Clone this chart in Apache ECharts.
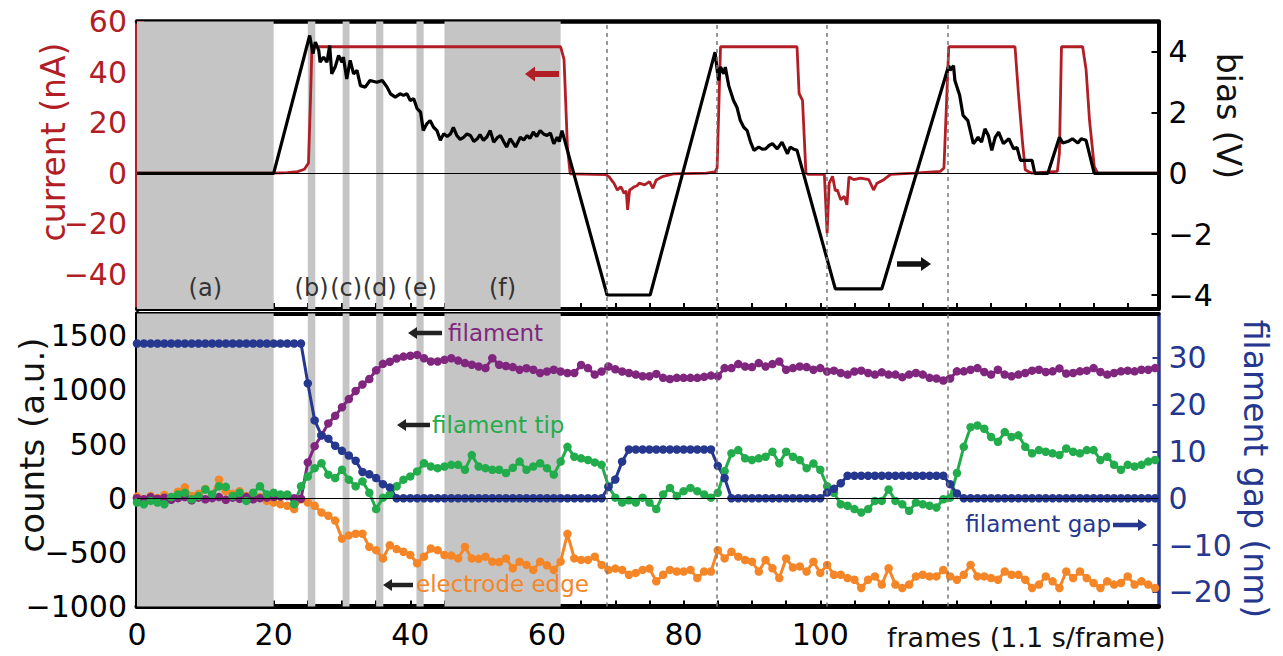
<!DOCTYPE html>
<html>
<head>
<meta charset="utf-8">
<title>filament growth</title>
<script src="https://cdn.jsdelivr.net/npm/echarts@6/dist/echarts.min.js"></script>
<style>
html, body { margin: 0; padding: 0; background: #fff; }
#main { width: 1283px; height: 656px; }
</style>
</head>
<body>
<div id="main"></div>
<script>
// top panel, [frame, value]
var currentNA = [[0,0],[20,0],[22,0.2],[23.5,0.6],[24.5,1.5],[25.1,4],[25.4,30],[25.6,50],[62.0,50],[62.5,45],[63.0,10],[63.4,-0.3],
  [68.6,-0.6],[69.1,-1.5],[69.5,-3],[69.8,-4],[70.3,-6.7],[70.8,-5.4],[71.3,-8],[71.6,-7],[71.8,-14.6],[72.1,-6.7],[72.5,-6],[72.8,-5.4],
  [73.2,-5],[73.5,-4],[74.3,-4.7],[75.0,-3.4],[75.5,-6],[76.0,-2.7],[77.0,-1.3],[78.5,-0.3],[83.3,0],[84.6,0.5],[84.9,2],[85.4,50],
  [96.6,50],[96.9,31.5],[97.4,28.8],[97.9,0],[98.2,-0.5],[100.6,-0.5],[101.0,-23.8],[101.3,-4],[101.8,-1.3],[102.2,-7],[102.5,-6.7],
  [103.0,-10.6],[103.5,-9.2],[103.9,-12.6],[104.2,-1.5],[104.9,-2.6],[105.9,-2],[107.1,-2.6],[107.8,-6.7],[108.3,-4],[109.3,-2.6],
  [110.3,-0.5],[113.7,0],[117.6,0.7],[118.1,2],[118.8,50],[128.5,50],[129.0,31.5],[129.6,12],[130.0,1.3],[130.5,0.5],[131.0,0],
  [134.7,0.7],[135.0,7.9],[135.3,50],[138.4,50],[138.9,41],[139.4,21],[140.1,2.6],[140.6,0],[149.5,0]];

var biasV = [[0,0],[20,0],[25.27,4.54],[25.75,3.94],[26.1,4.32],[26.6,4.05],[26.8,3.66],[27.3,3.83],[27.8,3.66],[28.2,4.21],[28.5,3.28],
  [29.0,3.50],[29.5,3.88],[30.0,3.66],[30.2,3.83],[30.7,3.11],[31.2,3.72],[31.7,3.28],[32.2,3.39],[32.7,2.89],[33.4,2.84],[34.1,3.06],
  [35.1,3.00],[35.9,3.06],[36.6,2.84],[37.1,2.62],[37.8,2.51],[38.5,2.62],[39.0,2.57],[39.5,2.62],[40.0,2.40],[40.5,2.46],[41.0,2.13],
  [41.5,2.02],[41.9,1.41],[42.4,1.63],[42.9,1.74],[43.4,1.52],[43.9,1.41],[44.4,1.09],[44.9,1.31],[45.4,1.22],[45.9,1.31],[46.3,1.52],
  [46.8,1.25],[47.3,1.12],[47.8,1.19],[48.3,1.30],[48.8,1.25],[49.3,1.05],[49.8,1.14],[50.2,1.28],[50.7,1.09],[51.2,1.20],[51.7,1.41],
  [52.2,1.03],[52.7,1.17],[53.2,1.25],[53.6,1.08],[54.1,0.87],[54.6,1.14],[55.0,1.02],[55.4,0.87],[56.1,1.19],[56.6,1.10],[57.1,1.25],
  [57.5,1.15],[58.0,1.36],[58.5,1.22],[59.0,1.41],[59.5,1.30],[60.0,1.25],[60.5,1.33],[61.0,0.98],[61.5,1.19],[61.8,1.05],[62.2,1.41],
  [68.8,-4.0],[75.1,-4.0],[84.6,3.99],[85.1,3.06],[85.4,3.50],[85.9,3.28],[86.1,3.50],[86.6,2.89],[87.3,2.40],[87.8,2.18],[88.3,1.74],
  [88.8,1.52],[89.3,1.41],[89.8,1.03],[90.3,0.76],[91.0,0.87],[91.5,0.80],[92.0,0.81],[92.5,0.92],[93.0,0.98],[93.7,0.81],[94.4,1.03],
  [95.2,0.65],[95.6,0.87],[96.1,0.80],[96.6,0.76],[102.2,-3.8],[109.0,-3.8],[118.8,3.55],[119.0,3.39],[119.5,3.55],[119.7,3.06],
  [120.4,2.57],[120.9,1.91],[121.6,1.74],[122.4,0.98],[123.1,1.19],[123.6,1.03],[124.1,1.47],[124.6,1.25],[125.1,0.76],[125.6,1.19],
  [126.1,1.36],[126.8,0.98],[127.6,1.14],[128.3,0.81],[128.8,0.85],[129.3,0.43],[131.0,0.43],[131.4,0],[133.3,0],[135.0,1.19],
  [135.5,1.0],[136.2,1.05],[136.9,1.14],[137.7,1.0],[138.2,1.14],[138.9,1.09],[140.1,0],[149.5,0]];

// bottom panel, one value per frame (0..149)
var filament = [0,-10,10,-5,5,-15,0,10,-20,5,-10,0,10,-15,5,-5,10,-10,0,5,10,15,20,0,-5,
  330,480,580,690,760,840,915,990,1050,1100,1180,1240,1260,1290,1307,1315,1323,1292,1262,1262,1277,1292,1270,1247,1232,
  1216,1201,1292,1232,1220,1210,1186,1200,1186,1156,1170,1186,1170,1156,1156,1230,1201,1141,1170,1216,1190,1170,1156,1141,1126,
  1126,1147,1111,1100,1111,1111,1111,1111,1120,1132,1126,1201,1201,1238,1216,1210,1247,1216,1238,1262,1186,1201,1216,1210,1186,
  1201,1170,1177,1156,1141,1170,1177,1156,1141,1162,1141,1141,1117,1141,1156,1141,1111,1105,1086,1105,1171,1171,1186,1201,1165,
  1141,1186,1141,1126,1141,1156,1177,1186,1165,1171,1198,1150,1156,1171,1177,1201,1165,1141,1156,1171,1177,1171,1186,1186,1201];

var filamentTip = [-40,-56,-25,-40,-56,10,35,50,-10,20,80,35,110,105,20,50,-25,50,110,35,50,35,35,-56,110,
  200,277,322,217,186,262,171,110,155,50,-101,5,35,110,171,201,247,323,292,277,292,308,308,262,398,
  292,277,262,262,232,280,338,262,292,323,277,217,338,474,383,368,353,330,308,111,5,-41,-20,-41,5,
  -41,-101,35,95,20,65,95,65,35,5,50,250,414,444,368,353,368,383,429,323,429,383,353,277,320,
  262,111,50,-56,-70,-101,-132,-101,-25,-25,80,-25,-56,-117,-41,-56,-70,-86,-10,5,232,474,656,671,641,
  565,520,610,565,580,474,414,444,429,414,399,459,429,414,444,444,353,383,308,262,308,292,308,338,353];

var electrodeEdge = [15,-10,20,0,30,10,60,100,20,40,85,30,171,65,40,65,20,0,10,-25,-40,-56,-70,-101,-10,
  -40,-70,-132,-162,-207,-374,-344,-328,-328,-450,-480,-556,-435,-470,-495,-525,-601,-540,-465,-480,-525,-530,-556,-450,-556,
  -560,-540,-586,-590,-556,-647,-586,-616,-662,-586,-620,-662,-586,-329,-556,-570,-570,-540,-616,-662,-650,-662,-707,-690,-662,
  -650,-768,-707,-662,-677,-677,-662,-738,-677,-677,-480,-556,-495,-540,-571,-586,-677,-571,-647,-738,-556,-640,-630,-677,-586,
  -690,-616,-707,-707,-738,-753,-829,-753,-722,-798,-647,-798,-829,-798,-722,-707,-722,-722,-662,-722,-753,-707,-616,-722,-722,
  -738,-753,-677,-707,-707,-753,-829,-798,-722,-768,-829,-677,-738,-677,-738,-783,-829,-768,-798,-783,-722,-798,-768,-798,-829];

var filamentGap = [33,33,33,33,33,33,33,33,33,33,33,33,33,33,33,33,33,33,33,33,33,33,33,33,33,
  24.5,16.6,13.4,12.7,11.2,10.1,9.1,8.0,5.6,5.1,4.3,3.0,2.3,0,
  0,0,0,0,0,0,0,0,0,0,0,0,0,0,0,0,0,0,0,0,0,0,0,0,0,0,0,0,0,0,
  2.4,4.0,7.8,10.4,
  10.4,10.4,10.4,10.4,10.4,10.4,10.4,10.4,10.4,10.4,10.4,10.4,
  6.9,4.3,0,
  0,0,0,0,0,0,0,0,0,0,0,0,0,
  1.2,2.0,3.2,4.8,
  4.8,4.8,4.8,4.8,4.8,4.8,4.8,4.8,4.8,4.8,4.8,4.8,4.8,4.8,
  3.0,1.0,
  0,0,0,0,0,0,0,0,0,0,0,0,0,0,0,0,0,0,0,0,0,0,0,0,0,0,0,0,0];

var shadedBands = [[0,20,'(a)'],[25,26.1,'(b)'],[30.1,31.1,'(c)'],[35,36.05,'(d)'],[40.9,41.95,'(e)'],[45,62,'(f)']];
var dashedFrames = [68.8, 84.9, 100.9, 118.7];
var frameLabels = [0, 20, 40, 60, 80, 100];
var currentTicks = [-40, -20, 0, 20, 40, 60];
var biasTicks = [-4, -2, 0, 2, 4];
var countTicks = [-1000, -500, 0, 500, 1000, 1500];
var gapTicks = [-20, -10, 0, 10, 20, 30];

var RED = '#b11e25', BLUE = '#25378f', PURPLE = '#80267f', GREEN = '#22ac4b', ORANGE = '#f58627';
var FONT = '"DejaVu Sans", sans-serif';

var frameTicks = [];
for (var f = 5; f < 150; f += 5) frameTicks.push(f);
var currentMinor = [];
for (var c = -50; c <= 55; c += 5) if (c % 20 !== 0) currentMinor.push(c);
var countMinor = [];
for (var k = -900; k <= 1700; k += 100) if (k % 500 !== 0) countMinor.push(k);

function minus(v) { return String(v).replace('-', '\u2212'); }
function perFrame(arr) { return arr.map(function (v, i) { return [i, v]; }); }

function yAx(grid, pos, min, max, color, width, ticks, labels, tickLen) {
    return {
        type: 'value', gridIndex: grid, position: pos, min: min, max: max,
        axisLine: { show: width > 0, onZero: false, lineStyle: { color: color, width: width } },
        axisTick: { show: true, inside: true, length: tickLen, customValues: ticks, lineStyle: { color: color, width: 2 } },
        axisLabel: labels ? { show: true, customValues: labels, color: color, fontSize: 30, fontFamily: FONT, margin: 10, formatter: minus } : { show: false },
        splitLine: { show: false }
    };
}
function xAx(grid, pos, width, ticks, labels) {
    return {
        type: 'value', gridIndex: grid, position: pos, min: 0, max: 149.5,
        axisLine: { onZero: false, lineStyle: { color: '#000', width: width } },
        axisTick: { show: !!ticks, inside: true, length: 6, customValues: ticks || [], lineStyle: { color: '#000', width: 2 } },
        axisLabel: labels ? { show: true, customValues: labels, color: '#000', fontSize: 30, fontFamily: FONT, margin: 13 } : { show: false },
        splitLine: { show: false }
    };
}

var vLines = dashedFrames.map(function (x) {
    return { xAxis: x, lineStyle: { type: [4, 4], color: '#777', width: 1.5 } };
});
var zeroLine = { yAxis: 0, lineStyle: { type: 'solid', color: '#000', width: 1 } };

function dotSeries(name, data, color, yIdx, extra) {
    var s = {
        name: name, type: 'line', xAxisIndex: 2, yAxisIndex: yIdx, data: perFrame(data),
        symbol: 'circle', symbolSize: 8.5, showSymbol: true,
        lineStyle: { color: color, width: 3 }, itemStyle: { color: color, borderWidth: 0 }
    };
    for (var key in extra) s[key] = extra[key];
    return s;
}

function arrow(tipX, tailX, y, color, headLen, headHalf, shaftHalf) {
    var dir = tipX < tailX ? -1 : 1;
    var bx = tipX - dir * headLen;
    return {
        type: 'polygon', z: 100,
        shape: { points: [[tailX, y - shaftHalf], [bx, y - shaftHalf], [bx, y - headHalf], [tipX, y], [bx, y + headHalf], [bx, y + shaftHalf], [tailX, y + shaftHalf]] },
        style: { fill: color }
    };
}
function label(text, x, y, color, size, align, rot) {
    return {
        type: 'text', x: x, y: y, rotation: rot || 0, z: 100,
        style: { text: text, fill: color, fontSize: size, fontFamily: FONT, align: align, verticalAlign: 'middle', textAlign: align, textVerticalAlign: 'middle' }
    };
}

var chart = echarts.init(document.getElementById('main'), null, { renderer: 'svg' });
chart.setOption({
    animation: false,
    backgroundColor: '#fff',
    grid: [
        { left: 137, right: 124.5, top: 21.5, height: 287.5 },
        { left: 137, right: 124.5, top: 313.5, height: 293 }
    ],
    xAxis: [
        xAx(0, 'bottom', 4, frameTicks, null),
        xAx(0, 'top', 4.5, null, null),
        xAx(1, 'bottom', 5, frameTicks, frameLabels),
        xAx(1, 'top', 4, null, null)
    ],
    yAxis: [
        yAx(0, 'left', -53.8, 60, RED, 4, currentTicks, currentTicks, 7),
        yAx(0, 'left', -53.8, 60, RED, 0, currentMinor, null, 3),
        yAx(0, 'right', -4.46, 5, '#000', 4, biasTicks, biasTicks, 7),
        yAx(1, 'left', -1000, 1705, '#000', 5, [-500, 0, 500, 1000, 1500], countTicks, 7),
        yAx(1, 'left', -1000, 1705, '#000', 0, countMinor, null, 3),
        yAx(1, 'right', -23.1, 39.4, BLUE, 3.5, gapTicks, gapTicks, 6)
    ],
    series: [
        {
            name: 'current', type: 'line', xAxisIndex: 0, yAxisIndex: 0, data: currentNA,
            showSymbol: false, lineStyle: { color: RED, width: 2.8 }, z: 2,
            markArea: {
                silent: true, itemStyle: { color: '#c5c5c5' },
                label: { show: true, position: 'insideBottom', distance: 9, color: '#333', fontSize: 24, fontFamily: FONT },
                data: shadedBands.map(function (b) { return [{ xAxis: b[0], name: b[2] }, { xAxis: b[1] }]; })
            },
            markLine: { silent: true, symbol: 'none', label: { show: false }, data: [zeroLine].concat(vLines) }
        },
        {
            name: 'bias', type: 'line', xAxisIndex: 0, yAxisIndex: 2, data: biasV,
            showSymbol: false, lineStyle: { color: '#000', width: 3.2 }, z: 3
        },
        dotSeries('electrode edge', electrodeEdge, ORANGE, 3, {
            markArea: {
                silent: true, itemStyle: { color: '#c5c5c5' }, label: { show: false },
                data: shadedBands.map(function (b) { return [{ xAxis: b[0] }, { xAxis: b[1] }]; })
            },
            markLine: { silent: true, symbol: 'none', label: { show: false }, data: [zeroLine].concat(vLines) }
        }),
        dotSeries('filament', filament, PURPLE, 3, {}),
        dotSeries('filament tip', filamentTip, GREEN, 3, {}),
        dotSeries('filament gap', filamentGap, BLUE, 5, {})
    ],
    graphic: [
        arrow(525, 559, 74, RED, 10, 7.5, 3),
        arrow(931, 897, 264, '#111', 10, 7, 2.8),
        arrow(408, 442, 333, '#222', 9, 6, 2.3),
        arrow(397, 430, 425, '#222', 9, 6, 2.3),
        arrow(383, 413, 585, '#222', 9, 6, 2.3),
        arrow(1147, 1113, 525, BLUE, 9, 6, 2.3),
        label('filament', 448, 333, PURPLE, 23, 'left'),
        label('filament tip', 432, 425, GREEN, 23, 'left'),
        label('electrode edge', 416, 584, ORANGE, 23, 'left'),
        label('filament gap', 1111, 524, BLUE, 23, 'right'),
        label('frames (1.1 s/frame)', 887, 637, '#111', 27, 'left'),
        label('current (nA)', 53, 142, RED, 33, 'center', Math.PI / 2),
        label('bias (V)', 1228, 116, '#111', 33, 'center', -Math.PI / 2),
        label('counts (a.u.)', 32, 445, '#111', 34, 'center', Math.PI / 2),
        label('filament gap (nm)', 1255, 469, BLUE, 33, 'center', -Math.PI / 2)
    ]
});
</script>
</body>
</html>
